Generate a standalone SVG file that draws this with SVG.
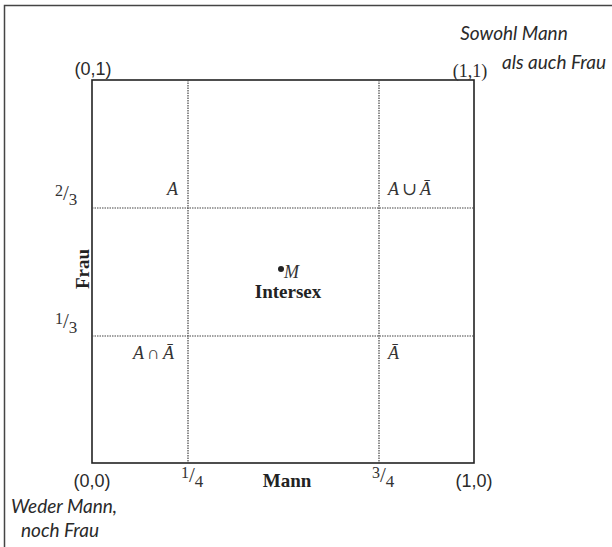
<svg xmlns="http://www.w3.org/2000/svg" width="612" height="547" viewBox="0 0 612 547">
<style>
.lbl{font-family:"Liberation Sans",Arial,sans-serif;font-size:18px;fill:#2a2a2a}
.ser{font-family:"Liberation Serif","DejaVu Serif",serif;font-size:18px;fill:#2a2a2a}
.it{font-family:Lato,"Open Sans",sans-serif;font-style:italic;font-size:19px;fill:#2a2a2a}
.bd{font-family:"Liberation Serif","Times New Roman",serif;font-weight:bold;font-size:19px;fill:#222}
.math{font-family:"Liberation Serif","DejaVu Serif",serif;font-style:italic;font-size:18px;fill:#333}
.frac{font-family:"Liberation Serif","DejaVu Serif",serif;fill:#333}
.grid{stroke:#444;stroke-width:1.2;stroke-dasharray:1.5 1;fill:none}
</style>
<rect width="612" height="547" fill="#fff"/>
<g id="frame">
<path d="M4.5 547 V5.5 H612" fill="none" stroke="#444" stroke-width="1.5"/>
</g>
<g id="square">
<rect x="92" y="80" width="382" height="383" fill="none" stroke="#222" stroke-width="1.6"/>
</g>
<g id="connectors">
<line class="grid" x1="188" y1="80" x2="188" y2="463"/>
<line class="grid" x1="379" y1="80" x2="379" y2="463"/>
<line class="grid" x1="92" y1="208" x2="474" y2="208"/>
<line class="grid" x1="92" y1="336" x2="474" y2="336"/>
</g>
<g id="corner-labels">
<text class="lbl" x="93" y="75" text-anchor="middle">(0,1)</text>
<text class="ser" x="470" y="77" text-anchor="middle">(1,1)</text>
<text class="lbl" x="92" y="487" text-anchor="middle">(0,0)</text>
<text class="lbl" x="474" y="487" text-anchor="middle">(1,0)</text>
<text class="it" x="514" y="40" text-anchor="middle">Sowohl Mann</text>
<text class="it" x="554" y="69" text-anchor="middle">als auch Frau</text>
<text class="it" x="64" y="513" text-anchor="middle">Weder Mann,</text>
<text class="it" x="60" y="537" text-anchor="middle">noch Frau</text>
</g>
<g id="axis-labels">
<text class="bd" x="287" y="487" text-anchor="middle">Mann</text>
<text class="bd" transform="translate(89 269) rotate(-90)" text-anchor="middle" font-size="20">Frau</text>
<text class="frac" x="181" y="481"><tspan font-size="16" dy="-3">1</tspan><tspan font-size="21" dy="4">/</tspan><tspan font-size="17" dy="5">4</tspan></text>
<text class="frac" x="372" y="481"><tspan font-size="16" dy="-3">3</tspan><tspan font-size="21" dy="4">/</tspan><tspan font-size="17" dy="5">4</tspan></text>
<text class="frac" x="55" y="199"><tspan font-size="16" dy="-3">2</tspan><tspan font-size="21" dy="4">/</tspan><tspan font-size="17" dy="5">3</tspan></text>
<text class="frac" x="55" y="327"><tspan font-size="16" dy="-3">1</tspan><tspan font-size="21" dy="4">/</tspan><tspan font-size="17" dy="5">3</tspan></text>
</g>
<g id="region-labels">
<text class="math" x="167" y="195">A</text>
<text class="math" x="388" y="195">A<tspan font-style="normal" dx="3">∪</tspan><tspan dx="3">A&#x0304;</tspan></text>
<text class="math" x="133" y="359">A<tspan font-style="normal" dx="3">∩</tspan><tspan dx="3">A&#x0304;</tspan></text>
<text class="math" x="388" y="359">A&#x0304;</text>
</g>
<g id="node-M">
<circle cx="281" cy="269" r="3" fill="#222"/>
<text class="math" x="284" y="278" font-size="17">M</text>
<text class="bd" x="288" y="298" text-anchor="middle" font-size="14">Intersex</text>
</g>
</svg>
